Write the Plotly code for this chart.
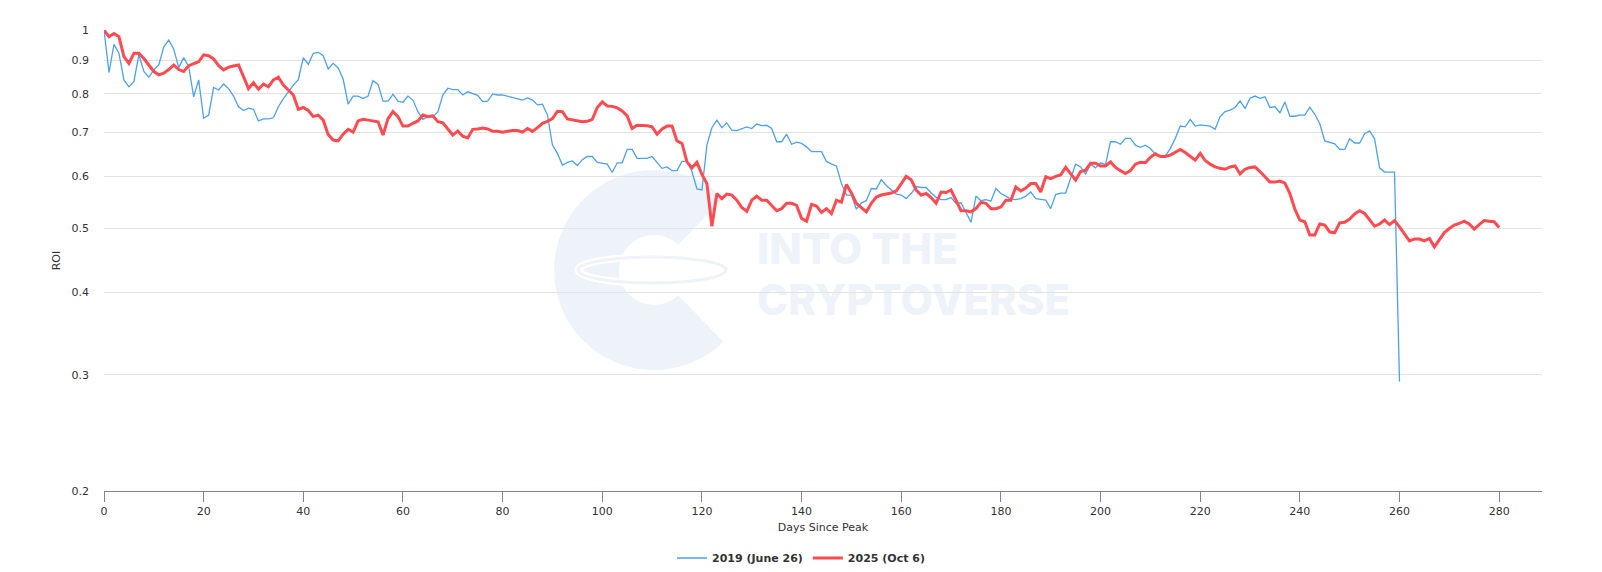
import math, base64
import plotly.graph_objects as go

roi_2019 = [
    1.0, 0.862, 0.951, 0.922, 0.84, 0.82, 0.835, 0.918, 0.865, 0.848,
    0.87, 0.885, 0.943, 0.966, 0.935, 0.877, 0.908, 0.88, 0.792, 0.84,
    0.735, 0.743, 0.818, 0.811, 0.828, 0.815, 0.794, 0.765, 0.755, 0.761,
    0.758, 0.728, 0.733, 0.733, 0.736, 0.765, 0.787, 0.806, 0.825, 0.841,
    0.908, 0.887, 0.922, 0.925, 0.914, 0.873, 0.89, 0.876, 0.842, 0.772,
    0.794, 0.794, 0.787, 0.794, 0.838, 0.827, 0.780, 0.780, 0.799, 0.780,
    0.777, 0.794, 0.783, 0.752, 0.732, 0.739, 0.739, 0.751, 0.797, 0.816,
    0.812, 0.812, 0.797, 0.806, 0.801, 0.796, 0.779, 0.78, 0.80, 0.797,
    0.797, 0.794, 0.79, 0.786, 0.783, 0.789, 0.783, 0.77, 0.772, 0.743,
    0.669, 0.65, 0.624, 0.63, 0.633, 0.623, 0.636, 0.643, 0.643, 0.63,
    0.628, 0.626, 0.608, 0.629, 0.629, 0.659, 0.659, 0.639, 0.639, 0.639,
    0.643, 0.629, 0.617, 0.62, 0.612, 0.612, 0.632, 0.632, 0.61, 0.574,
    0.572, 0.669, 0.711, 0.73, 0.711, 0.723, 0.705, 0.704, 0.709, 0.713,
    0.709, 0.72, 0.716, 0.717, 0.709, 0.677, 0.677, 0.695, 0.671, 0.676,
    0.673, 0.665, 0.654, 0.654, 0.654, 0.632, 0.626, 0.622, 0.585, 0.562,
    0.562, 0.535, 0.547, 0.551, 0.575, 0.574, 0.593, 0.581, 0.572, 0.564,
    0.562, 0.555, 0.565, 0.579, 0.577, 0.577, 0.566, 0.558, 0.553, 0.553,
    0.557, 0.546, 0.547, 0.53, 0.511, 0.56, 0.551, 0.553, 0.55, 0.575,
    0.565, 0.56, 0.554, 0.553, 0.555, 0.56, 0.568, 0.555, 0.554, 0.552,
    0.536, 0.563, 0.566, 0.566, 0.596, 0.626, 0.62, 0.605, 0.626, 0.618,
    0.629, 0.625, 0.677, 0.677, 0.671, 0.685, 0.685, 0.669, 0.664, 0.669,
    0.661, 0.648, 0.644, 0.644, 0.661, 0.685, 0.715, 0.713, 0.732, 0.715,
    0.718, 0.717, 0.715, 0.707, 0.739, 0.752, 0.756, 0.763, 0.781, 0.76,
    0.788, 0.794, 0.788, 0.792, 0.763, 0.765, 0.749, 0.778, 0.74, 0.74,
    0.743, 0.743, 0.764, 0.745, 0.721, 0.679, 0.676, 0.672, 0.659, 0.659,
    0.684, 0.674, 0.674, 0.696, 0.703, 0.684, 0.618, 0.609, 0.609, 0.609,
    0.293,
]

roi_2025 = [
    1.0, 0.977, 0.988, 0.977, 0.911, 0.89, 0.922, 0.922, 0.905, 0.885,
    0.865, 0.855, 0.86, 0.871, 0.885, 0.871, 0.865, 0.883, 0.89, 0.895,
    0.917, 0.914, 0.904, 0.883, 0.87, 0.878, 0.882, 0.885, 0.85, 0.815,
    0.832, 0.813, 0.828, 0.82, 0.84, 0.848, 0.825, 0.811, 0.797, 0.758,
    0.763, 0.755, 0.739, 0.743, 0.730, 0.694, 0.681, 0.679, 0.695, 0.707,
    0.70, 0.728, 0.732, 0.73, 0.728, 0.726, 0.693, 0.734, 0.752, 0.739,
    0.715, 0.715, 0.722, 0.728, 0.743, 0.739, 0.741, 0.726, 0.723, 0.709,
    0.693, 0.703, 0.69, 0.686, 0.707, 0.708, 0.71, 0.708, 0.702, 0.702,
    0.70, 0.702, 0.704, 0.704, 0.70, 0.709, 0.702, 0.711, 0.722, 0.727,
    0.734, 0.753, 0.752, 0.733, 0.73, 0.728, 0.726, 0.727, 0.732, 0.763,
    0.778, 0.767, 0.766, 0.762, 0.754, 0.741, 0.709, 0.717, 0.717, 0.716,
    0.713, 0.695, 0.708, 0.715, 0.715, 0.679, 0.673, 0.631, 0.618, 0.63,
    0.604, 0.585, 0.504, 0.565, 0.555, 0.564, 0.562, 0.552, 0.538, 0.531,
    0.552, 0.56, 0.552, 0.552, 0.542, 0.532, 0.536, 0.546, 0.546, 0.542,
    0.518, 0.513, 0.544, 0.541, 0.529, 0.536, 0.527, 0.552, 0.548, 0.583,
    0.566, 0.546, 0.538, 0.53, 0.546, 0.558, 0.562, 0.564, 0.566, 0.57,
    0.584, 0.60, 0.593, 0.572, 0.562, 0.565, 0.557, 0.546, 0.568, 0.567,
    0.572, 0.552, 0.532, 0.532, 0.53, 0.536, 0.548, 0.546, 0.536, 0.536,
    0.539, 0.552, 0.552, 0.578, 0.57, 0.576, 0.585, 0.585, 0.568, 0.599,
    0.595, 0.60, 0.603, 0.619, 0.605, 0.592, 0.61, 0.613, 0.628, 0.628,
    0.622, 0.622, 0.631, 0.619, 0.612, 0.606, 0.612, 0.626, 0.63, 0.629,
    0.641, 0.649, 0.643, 0.643, 0.646, 0.652, 0.659, 0.652, 0.643, 0.635,
    0.65, 0.634, 0.626, 0.62, 0.617, 0.615, 0.62, 0.622, 0.605, 0.615,
    0.619, 0.62, 0.61, 0.598, 0.588, 0.588, 0.59, 0.586, 0.565, 0.535,
    0.515, 0.512, 0.489, 0.489, 0.508, 0.506, 0.494, 0.493, 0.51, 0.511,
    0.517, 0.526, 0.532, 0.527, 0.516, 0.504, 0.508, 0.515, 0.507, 0.514,
    0.503, 0.491, 0.479, 0.482, 0.482, 0.479, 0.483, 0.469, 0.481, 0.493,
    0.50, 0.506, 0.509, 0.513, 0.508, 0.499, 0.507, 0.514, 0.513, 0.512,
    0.502,
]

days_2019 = list(range(len(roi_2019)))
days_2025 = list(range(len(roi_2025)))

y_tickvals = [0.2, 0.3, 0.4, 0.5, 0.6, 0.7, 0.8, 0.9, 1]
y_ticktext = ["0.2", "0.3", "0.4", "0.5", "0.6", "0.7", "0.8", "0.9", "1"]
x_tickvals = list(range(0, 281, 20))

series_names = ["2019 (June 26)", "2025 (Oct 6)"]

FONT = "DejaVu Sans"

fig = go.Figure()
fig.add_trace(go.Scatter(x=days_2019, y=roi_2019, mode="lines", name=series_names[0],
                         line=dict(color="#4ba2f2", width=1.3)))
fig.add_trace(go.Scatter(x=days_2025, y=roi_2025, mode="lines", name=series_names[1],
                         line=dict(color="#ff4a4f", width=3)))

# watermark (logo + text) as svg image under the grid
pale = "#eef3fa"
svg = f'''<svg xmlns="http://www.w3.org/2000/svg" width="540" height="220" viewBox="0 0 540 220">
<path d="M 138.3 84.8 L 183.5 38.1 A 100 100 0 1 0 183.5 181.9 L 138.3 135.2 A 35 35 0 1 1 138.3 84.8 Z" fill="{pale}"/>
<ellipse cx="112" cy="110" rx="74" ry="13" fill="none" stroke="#ffffff" stroke-width="7"/>
<ellipse cx="112" cy="110" rx="74" ry="13" fill="none" stroke="{pale}" stroke-width="3"/>
<text x="217" y="104" font-family="Inter, Roboto, sans-serif" font-weight="800" font-size="43" fill="{pale}" textLength="201" lengthAdjust="spacingAndGlyphs">INTO THE</text>
<text x="217" y="155" font-family="Inter, Roboto, sans-serif" font-weight="800" font-size="43" fill="{pale}" textLength="313" lengthAdjust="spacingAndGlyphs">CRYPTOVERSE</text>
</svg>'''
src = "data:image/svg+xml;base64," + base64.b64encode(svg.encode()).decode()
PL, PR, PT, PB = 104, 1542, 30, 491
fig.add_layout_image(dict(source=src, xref="paper", yref="paper",
                          x=(540 - PL) / (PR - PL), y=(PB - 160) / (PB - PT),
                          sizex=540 / (PR - PL), sizey=220 / (PB - PT),
                          xanchor="left", yanchor="top", sizing="stretch", layer="below"))

fig.update_layout(
    width=1602, height=572,
    margin=dict(l=PL, r=1602 - PR, t=PT, b=572 - PB),
    paper_bgcolor="white", plot_bgcolor="white",
    font=dict(family=FONT, size=11, color="#333333"),
    showlegend=True,
    legend=dict(orientation="h", xref="container", yref="container",
                x=0.5, xanchor="center", y=1 - 558 / 572, yanchor="middle",
                font=dict(family=FONT, size=11, color="#333333", weight="bold"),
                itemwidth=30, tracegroupgap=0),
    xaxis=dict(range=[0, 288.6], tickvals=x_tickvals, showgrid=False, zeroline=False,
               showline=True, linecolor="#7f8693", linewidth=1,
               ticks="outside", ticklen=10, tickcolor="#7f8693", tickwidth=1,
               tickfont=dict(family=FONT, size=11, color="#333333"),
               title=dict(text="Days Since Peak", font=dict(family=FONT, size=11, color="#333333"), standoff=6)),
    yaxis=dict(type="log", range=[math.log10(0.2), 0], tickvals=y_tickvals, ticktext=y_ticktext,
               showgrid=True, gridcolor="#e2e2e2", gridwidth=1, zeroline=False, showline=False,
               ticks="", ticklabelstandoff=14,
               tickfont=dict(family=FONT, size=11, color="#333333"),
               title=dict(text="ROI", font=dict(family=FONT, size=11, color="#333333"), standoff=8)),
)

fig.write_html("out.html")
